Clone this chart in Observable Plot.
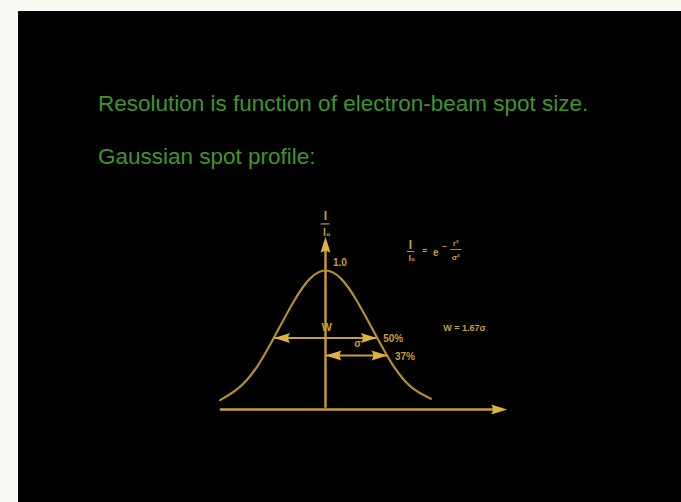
<!DOCTYPE html>
<html>
<head>
<meta charset="utf-8">
<script src="https://cdn.jsdelivr.net/npm/d3@7"></script>
<script src="https://cdn.jsdelivr.net/npm/@observablehq/plot@0.6"></script>
<style>
  html, body { margin: 0; padding: 0; background: #fbfbf6; }
  #page { position: relative; width: 681px; height: 502px; overflow: hidden; }
  #slide { position: absolute; left: 18px; top: 11px; width: 663px; height: 491px; background: #000; }
  .headline { position: absolute; left: 98px; margin: 0; font-family: "Liberation Sans", Arial, sans-serif;
              font-size: 22.5px; line-height: 22.5px; font-weight: normal; color: #3e962b; white-space: nowrap; }
  #chart { position: absolute; left: 0; top: 0; }
</style>
</head>
<body>
<div id="page">
  <div id="slide"></div>
  <h1 class="headline" style="top:93px">Resolution is function of electron-beam spot size.</h1>
  <h2 class="headline" style="top:146px">Gaussian spot profile:</h2>
  <div id="chart"></div>
</div>
<script>
// Radial distance in units of sigma, and relative intensity I/I0
const radius    = [-1.7, -1.4, -1.1, -0.8, -0.5, -0.25, 0, 0.25, 0.5, 0.8, 1.1, 1.4, 1.7];
const intensity = [0.04, 0.13, 0.29, 0.53, 0.78, 0.94, 1.0, 0.94, 0.78, 0.53, 0.29, 0.13, 0.05];

// Marked intensity levels: full width (W) at 50%, radius sigma at 37%
const levelLabels = ["50%", "37%"];
const levelValues = [0.5, 0.37];
const levelFrom   = [-0.83, 0];
const levelTo     = [0.83, 1.0];

const peakLabel = "1.0";
const peakValue = 1.0;
const widthNote = "W = 1.67σ";

const profile = radius.map((r, i) => ({r, v: intensity[i]}));

const gold = "#c99e30", curveGold = "#b38e2e", headGold = "#ddb23e";
const font = "Liberation Sans, Arial, sans-serif";

// Filled, slender arrowhead with its tip at the symbol origin
function head(angleDeg) {
  const a = angleDeg * Math.PI / 180, c = Math.cos(a), s = Math.sin(a);
  // shape drawn pointing up, then rotated clockwise by angleDeg
  const pts = [[0, 0], [5, 16], [0, 12.5], [-5, 16]].map(([x, y]) => [x * c - y * s, x * s + y * c]);
  return {
    draw(ctx) {
      ctx.moveTo(pts[0][0], pts[0][1]);
      ctx.lineTo(pts[1][0], pts[1][1]);
      ctx.quadraticCurveTo(pts[2][0], pts[2][1], pts[3][0], pts[3][1]);
      ctx.closePath();
    }
  };
}
const UP = head(0), RIGHT = head(90), LEFT = head(-90);

function label(text, x, y, opts = {}) {
  return Plot.text([text], {x, y, text: d => d, fill: gold, fontFamily: font, fontWeight: "bold",
                            fontSize: 10, ...opts});
}

const levels = levelValues.map((v, i) => ({v, from: levelFrom[i], to: levelTo[i], label: levelLabels[i]}));

const chart = Plot.plot({
  width: 681,
  height: 502,
  margin: 0,
  x: {domain: [-325 / 62, 356 / 62], axis: null},
  y: {domain: [-97 / 135, 405 / 135], axis: null},
  style: {background: "transparent", overflow: "visible"},
  marks: [
    // intensity axis and radius axis
    Plot.line([{r: 0, v: -0.01}, {r: 0, v: 1.16}], {x: "r", y: "v", stroke: gold, strokeWidth: 2.4}),
    Plot.dot([{r: 0, v: 1.25}], {x: "r", y: "v", symbol: UP, fill: headGold, stroke: "none"}),
    Plot.line([{r: -1.69, v: -0.03}, {r: 2.8, v: -0.03}], {x: "r", y: "v", stroke: gold, strokeWidth: 2.4}),
    Plot.dot([{r: 2.93, v: -0.03}], {x: "r", y: "v", symbol: RIGHT, fill: headGold, stroke: "none"}),

    // Gaussian profile
    Plot.line(profile, {x: "r", y: "v", curve: "natural", stroke: curveGold, strokeWidth: 2.2}),

    // width markers at 50% and 37%
    Plot.ruleY(levels, {y: "v", x1: "from", x2: "to", stroke: gold, strokeWidth: 2}),
    Plot.dot(levels, {x: "from", y: "v", symbol: LEFT, fill: headGold, stroke: "none"}),
    Plot.dot(levels, {x: "to", y: "v", symbol: RIGHT, fill: headGold, stroke: "none"}),
    Plot.text(levels, {x: d => d.to + 0.1 + (d.v < 0.4 ? 0.02 : 0), y: "v", text: "label", textAnchor: "start",
                       fill: gold, fontFamily: font, fontWeight: "bold", fontSize: 10, dy: 1}),

    label(peakLabel, 0.12, peakValue + 0.06, {textAnchor: "start", fontSize: 10}),
    label("W", 0.02, 0.58, {fontSize: 11}),
    label("σ", 0.52, 0.46, {fontSize: 10}),
    label(widthNote, 1.9, 0.57, {textAnchor: "start", fontSize: 9}),

    // axis title I / I0
    label("I", 0, 1.40, {fontSize: 12}),
    Plot.ruleY([1.345], {x1: -0.07, x2: 0.07, stroke: gold, strokeWidth: 1.2}),
    label("I₀", 0.02, 1.28, {fontSize: 10}),

    // I / I0 = e^(-r²/σ²)
    label("I", 1.37, 1.19, {fontSize: 12}),
    Plot.ruleY([1.14], {x1: 1.32, x2: 1.44, stroke: gold, strokeWidth: 1}),
    label("I₀", 1.39, 1.09, {fontSize: 9}),
    label("=", 1.6, 1.14, {fontSize: 9}),
    label("e", 1.78, 1.13, {fontSize: 10}),
    label("−", 1.92, 1.18, {fontSize: 8}),
    label("r²", 2.1, 1.20, {fontSize: 8}),
    Plot.ruleY([1.155], {x1: 2.02, x2: 2.2, stroke: gold, strokeWidth: 0.9}),
    label("σ²", 2.1, 1.10, {fontSize: 8})
  ]
});

document.getElementById("chart").appendChild(chart);
</script>
</body>
</html>
